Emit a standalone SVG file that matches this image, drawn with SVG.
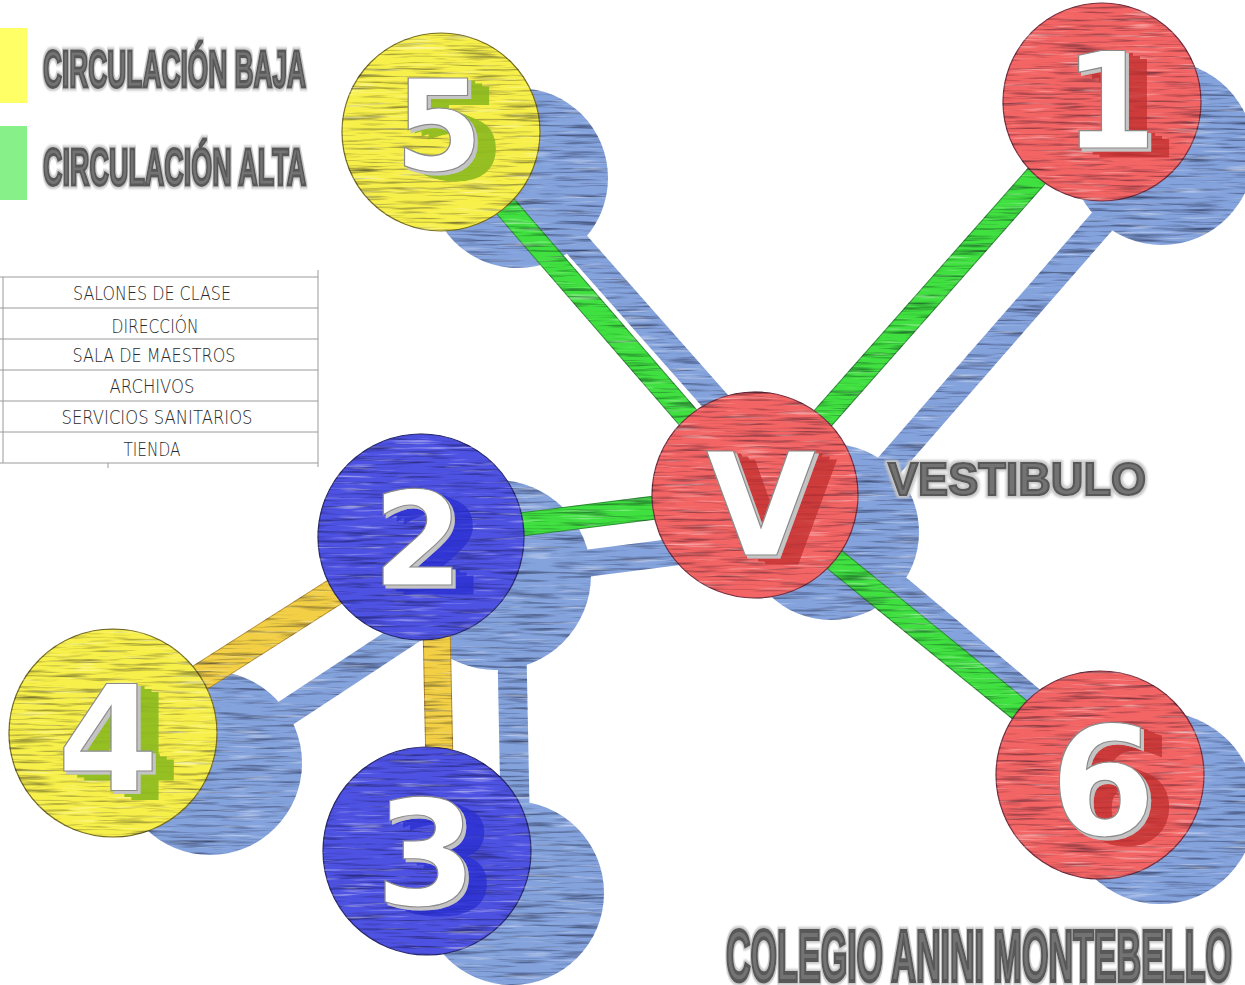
<svg xmlns="http://www.w3.org/2000/svg" width="1245" height="985" viewBox="0 0 1245 985">
<defs>
<filter id="pencil" x="-5%" y="-5%" width="110%" height="110%" color-interpolation-filters="sRGB">
  <feTurbulence type="fractalNoise" baseFrequency="0.018 0.32" numOctaves="3" seed="7" result="n"/>
  <feColorMatrix in="n" type="matrix" values="0 0 0 0 0  0 0 0 0 0  0 0 0 0 0.08  1.3 0 0 0 -0.64" result="dark"/>
  <feComposite in="dark" in2="SourceAlpha" operator="in" result="darkIn"/>
  <feColorMatrix in="n" type="matrix" values="0 0 0 0 1  0 0 0 0 1  0 0 0 0 1  0 -1.5 0 0 0.62" result="light"/>
  <feComposite in="light" in2="SourceAlpha" operator="in" result="lightIn"/>
  <feMerge><feMergeNode in="SourceGraphic"/><feMergeNode in="darkIn"/><feMergeNode in="lightIn"/></feMerge>
</filter>
<filter id="halo" x="-5%" y="-20%" width="110%" height="140%">
  <feMorphology in="SourceAlpha" operator="dilate" radius="1.5" result="d"/>
  <feGaussianBlur in="d" stdDeviation="1.2" result="b"/>
  <feFlood flood-color="#c8c8c8"/>
  <feComposite in2="b" operator="in" result="h"/>
  <feMerge><feMergeNode in="h"/><feMergeNode in="SourceGraphic"/></feMerge>
</filter>
<filter id="xr" x="-30%" y="-30%" width="180%" height="170%">
  <feOffset in="SourceAlpha" dx="7" dy="3" result="a1"/>
  <feOffset in="SourceAlpha" dx="14" dy="6" result="a2"/>
  <feOffset in="SourceAlpha" dx="21" dy="9" result="a3"/>
  <feMerge result="ex"><feMergeNode in="a1"/><feMergeNode in="a2"/><feMergeNode in="a3"/></feMerge>
  <feFlood flood-color="#c02c2c" flood-opacity="0.75"/>
  <feComposite in2="ex" operator="in" result="s"/>
  <feOffset in="SourceAlpha" dx="3" dy="3" result="o2"/>
  <feFlood flood-color="#c4c4c4"/>
  <feComposite in2="o2" operator="in" result="g"/>
  <feMerge><feMergeNode in="s"/><feMergeNode in="g"/><feMergeNode in="SourceGraphic"/></feMerge>
</filter>
<filter id="xy" x="-30%" y="-30%" width="180%" height="170%">
  <feOffset in="SourceAlpha" dx="7" dy="3" result="a1"/>
  <feOffset in="SourceAlpha" dx="14" dy="6" result="a2"/>
  <feOffset in="SourceAlpha" dx="21" dy="9" result="a3"/>
  <feMerge result="ex"><feMergeNode in="a1"/><feMergeNode in="a2"/><feMergeNode in="a3"/></feMerge>
  <feFlood flood-color="#8cba1e" flood-opacity="0.9"/>
  <feComposite in2="ex" operator="in" result="s"/>
  <feOffset in="SourceAlpha" dx="3" dy="3" result="o2"/>
  <feFlood flood-color="#c4c4c4"/>
  <feComposite in2="o2" operator="in" result="g"/>
  <feMerge><feMergeNode in="s"/><feMergeNode in="g"/><feMergeNode in="SourceGraphic"/></feMerge>
</filter>
<filter id="xb" x="-30%" y="-30%" width="180%" height="170%">
  <feOffset in="SourceAlpha" dx="7" dy="3" result="a1"/>
  <feOffset in="SourceAlpha" dx="14" dy="6" result="a2"/>
  <feOffset in="SourceAlpha" dx="21" dy="9" result="a3"/>
  <feMerge result="ex"><feMergeNode in="a1"/><feMergeNode in="a2"/><feMergeNode in="a3"/></feMerge>
  <feFlood flood-color="#2a2fd0" flood-opacity="0.75"/>
  <feComposite in2="ex" operator="in" result="s"/>
  <feOffset in="SourceAlpha" dx="3" dy="3" result="o2"/>
  <feFlood flood-color="#c4c4c4"/>
  <feComposite in2="o2" operator="in" result="g"/>
  <feMerge><feMergeNode in="s"/><feMergeNode in="g"/><feMergeNode in="SourceGraphic"/></feMerge>
</filter>
</defs>
<style>
.shl{stroke:#84a2dc;stroke-width:27;fill:none}
.g{stroke:#3fe03f;stroke-width:22}
.go{stroke:#2f8f35;stroke-width:24}
.y{stroke:#f2cf45;stroke-width:26}
.yo{stroke:#b58a2a;stroke-width:28}
.red{fill:#f36464;stroke:#7a3040;stroke-width:1.2;filter:url(#pencil)}
.yel{fill:#f8f04a;stroke:#7a7020;stroke-width:1.2;filter:url(#pencil)}
.blu{fill:#4e52e2;stroke:#2a2a70;stroke-width:1.2;filter:url(#pencil)}
.num{font-family:"DejaVu Sans",sans-serif;font-weight:bold;text-anchor:middle;fill:#ffffff;stroke:#8a8a8a;stroke-width:1.2}
.title{font-family:"Liberation Sans",Arial,sans-serif;font-weight:bold;fill:#737373;stroke:#585858;filter:url(#halo)}
.tbl{stroke:#9a9a9a;stroke-width:1;fill:none}
.tt{font-family:"DejaVu Sans",sans-serif;font-weight:200;font-size:19px;fill:#2a2a2a;text-anchor:middle}
</style>
<rect width="1245" height="985" fill="#ffffff"/>

<g id="legend">
  <rect x="0" y="28" width="27" height="75" fill="#ffff66"/>
  <rect x="0" y="126" width="27" height="74" fill="#88f088"/>
  <text class="title" transform="translate(43,87) scale(0.506,1)" x="0" y="0" font-size="52" stroke-width="3" textLength="520" lengthAdjust="spacingAndGlyphs">CIRCULACIÓN BAJA</text>
  <text class="title" transform="translate(43,185) scale(0.509,1)" x="0" y="0" font-size="52" stroke-width="3" textLength="517" lengthAdjust="spacingAndGlyphs">CIRCULACIÓN ALTA</text>
</g>

<g id="table">
  <path class="tbl" d="M0 277H318M0 308H318M0 339H318M0 370H318M0 401H318M0 432H318M0 463H318M318 270V467M3 277V463M108 463V468"/>
  <text class="tt" x="152" y="300" textLength="158" lengthAdjust="spacingAndGlyphs">SALONES DE CLASE</text>
  <text class="tt" x="155" y="333" textLength="87" lengthAdjust="spacingAndGlyphs">DIRECCIÓN</text>
  <text class="tt" x="154" y="362" textLength="163" lengthAdjust="spacingAndGlyphs">SALA DE MAESTROS</text>
  <text class="tt" x="152" y="393" textLength="85" lengthAdjust="spacingAndGlyphs">ARCHIVOS</text>
  <text class="tt" x="157" y="424" textLength="191" lengthAdjust="spacingAndGlyphs">SERVICIOS SANITARIOS</text>
  <text class="tt" x="152" y="456" textLength="57" lengthAdjust="spacingAndGlyphs">TIENDA</text>
</g>

<g id="shadows" filter="url(#pencil)">
  <g fill="#84a2dc" stroke="none">
    <circle cx="518" cy="178" r="90"/>
    <circle cx="1162" cy="153" r="92"/>
    <circle cx="831" cy="532" r="88"/>
    <circle cx="496" cy="575" r="95"/>
    <circle cx="210" cy="763" r="92"/>
    <circle cx="512" cy="893" r="92"/>
    <circle cx="1160" cy="808" r="96"/>
  </g>
  <g class="shl">
    <line x1="518" y1="178" x2="831" y2="532"/>
    <line x1="1162" y1="153" x2="831" y2="532"/>
    <line x1="496" y1="575" x2="831" y2="532"/>
    <line x1="831" y1="532" x2="1160" y2="808"/>
    <line x1="496" y1="575" x2="210" y2="763"/>
    <line x1="511" y1="600" x2="516" y2="860" stroke-width="29"/>
  </g>
</g>

<g id="connectors">
  <g filter="url(#pencil)">
    <line class="go" x1="441" y1="132" x2="755" y2="495"/>
    <line class="g" x1="441" y1="132" x2="755" y2="495"/>
    <line class="go" x1="1102" y1="102" x2="755" y2="495"/>
    <line class="g" x1="1102" y1="102" x2="755" y2="495"/>
    <line class="go" x1="421" y1="537" x2="755" y2="495"/>
    <line class="g" x1="421" y1="537" x2="755" y2="495"/>
    <line class="go" x1="755" y1="495" x2="1100" y2="775"/>
    <line class="g" x1="755" y1="495" x2="1100" y2="775"/>
    <line class="yo" x1="421" y1="537" x2="113" y2="733"/>
    <line class="y" x1="421" y1="537" x2="113" y2="733"/>
    <line class="yo" x1="436" y1="600" x2="440" y2="790"/>
    <line class="y" x1="436" y1="600" x2="440" y2="790"/>
  </g>
</g>

<g id="node-5">
  <circle class="yel" cx="441" cy="132" r="99"/>
  <text class="num" x="439" y="170" font-size="127" filter="url(#xy)">5</text>
</g>

<g id="node-1">
  <circle class="red" cx="1102" cy="102" r="99"/>
  <text class="num" x="1110" y="148" font-size="134" filter="url(#xr)">1</text>
</g>

<g id="node-V">
  <circle class="red" cx="755" cy="495" r="103"/>
  <text class="num" x="761" y="555" font-size="142" filter="url(#xr)">V</text>
</g>
<text class="title" x="888" y="495" font-size="46" stroke-width="2.2" textLength="258" lengthAdjust="spacingAndGlyphs">VESTIBULO</text>

<g id="node-2">
  <circle class="blu" cx="421" cy="537" r="103"/>
  <text class="num" x="418" y="585" font-size="130" filter="url(#xb)">2</text>
</g>

<g id="node-4">
  <circle class="yel" cx="113" cy="733" r="104"/>
  <text class="num" x="108" y="790" font-size="146" filter="url(#xy)">4</text>
</g>

<g id="node-3">
  <circle class="blu" cx="427" cy="851" r="104"/>
  <text class="num" x="426" y="905" font-size="146" filter="url(#xb)">3</text>
</g>

<g id="node-6">
  <circle class="red" cx="1100" cy="775" r="104"/>
  <text class="num" x="1103" y="835" font-size="152" filter="url(#xr)">6</text>
</g>

<text class="title" transform="translate(726,981) scale(0.4655,1)" x="0" y="0" font-size="73" stroke-width="4" textLength="1087" lengthAdjust="spacingAndGlyphs">COLEGIO ANINI MONTEBELLO</text>
</svg>
